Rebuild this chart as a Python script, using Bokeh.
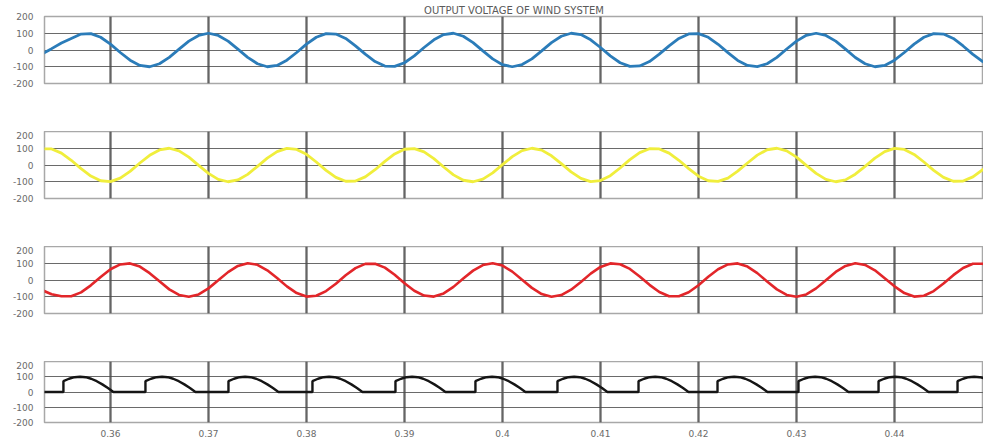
from bokeh.plotting import figure
from bokeh.layouts import column
from bokeh.models import Range1d, FixedTicker, Grid, Title
from bokeh.embed import file_html
from bokeh.resources import INLINE

title_text = "OUTPUT VOLTAGE OF WIND SYSTEM"

# sample times (ms) and the three phase voltages
t_ms = list(range(353, 451))
phase_blue = [
    -25, 8, 42, 69, 95, 98, 76, 35, -15, -61,
    -92, -100, -82, -44, 5, 53, 87, 100, 87, 53,
    5, -44, -82, -100, -92, -61, -15, 35, 76, 98,
    95, 69, 25, -25, -69, -96, -98, -76, -35, 15,
    61, 92, 100, 82, 44, -5, -53, -88, -100, -87,
    -53, -5, 44, 82, 100, 92, 61, 15, -35, -76,
    -98, -95, -69, -25, 25, 69, 96, 98, 76, 34,
    -16, -62, -92, -99, -82, -44, 6, 53, 88, 100,
    87, 53, 5, -45, -82, -100, -92, -61, -15, 35,
    76, 98, 95, 69, 24, -26, -69, -96,
]
phase_yellow = [
    97, 96, 71, 28, -22, -66, -94, -99, -78, -38,
    12, 58, 90, 100, 84, 47, -2, -50, -86, -100,
    -89, -56, -8, 41, 80, 99, 93, 64, 18, -32,
    -74, -97, -96, -71, -28, 22, 66, 94, 98, 78,
    38, -12, -59, -91, -100, -84, -47, 2, 50, 86,
    100, 89, 55, 8, -41, -80, -99, -93, -64, -18,
    32, 74, 97, 96, 71, 28, -22, -67, -94, -98,
    -78, -37, 12, 59, 91, 100, 84, 47, -2, -50,
    -86, -100, -89, -55, -8, 41, 80, 99, 93, 63,
    18, -32, -74, -97, -96, -71, -28, 22,
]
phase_red = [
    -60, -85, -97, -97, -74, -32, 18, 64, 93, 99,
    80, 41, -8, -56, -89, -100, -86, -50, -2, 47,
    84, 100, 91, 58, 12, -38, -78, -99, -94, -66,
    -22, 28, 71, 96, 97, 74, 31, -19, -64, -93,
    -99, -80, -41, 9, 56, 89, 100, 86, 50, 1,
    -47, -84, -100, -90, -58, -12, 38, 78, 99, 94,
    66, 21, -29, -72, -97, -97, -73, -31, 19, 64,
    93, 99, 80, 41, -9, -56, -89, -100, -86, -50,
    -1, 48, 84, 100, 90, 58, 11, -38, -78, -99,
    -94, -66, -21, 29, 72, 97, 97, 73,
]

# rectified output: pulse start times (ms) and one pulse's shape
pulse_start_ms = [355.20, 363.57, 372.04, 380.61, 389.08, 397.24,
                  405.61, 413.88, 421.94, 430.20, 438.37, 446.43]
pulse_offset_ms = [0.0, 0.0, 0.57, 1.13, 1.70, 2.27, 2.83, 3.40, 3.97, 4.54, 5.10]
pulse_value = [0, 71, 87, 97, 100, 97, 87, 71, 50, 26, 0]
rect_start_ms = 353.0

x_tick_values = [0.36, 0.37, 0.38, 0.39, 0.40, 0.41, 0.42, 0.43, 0.44]
x_tick_labels = ["0.36", "0.37", "0.38", "0.39", "0.4", "0.41", "0.42", "0.43", "0.44"]
y_tick_values = [-200, -100, 0, 100, 200]
y_tick_labels = ["-200", "-100", "0", "100", "200"]
y_grid_values = [-100, 0, 100]

t = [v / 1000.0 for v in t_ms]
rect_t = [rect_start_ms / 1000.0]
rect_v = [0]
for s in pulse_start_ms:
    for o, v in zip(pulse_offset_ms, pulse_value):
        rect_t.append((s + o) / 1000.0)
        rect_v.append(v)

series = [
    (t, phase_blue, "#2b7cb9", 2.8),
    (t, phase_yellow, "#f0ee3c", 2.8),
    (t, phase_red, "#e2262a", 2.6),
    (rect_t, rect_v, "#151515", 2.4),
]

FONT = "DejaVu Sans"
WIDTH = 983
FRAME_H = 67
GAP = 48
TOP = 16
AXIS_H = 11
x_range = Range1d(0.35327, 0.44908)
figs = []
for i, (xs, ys, col, lw) in enumerate(series):
    first = i == 0
    last = i == len(series) - 1
    b_top = TOP if first else 0
    b_bot = AXIS_H if last else GAP
    p = figure(x_range=x_range, y_range=Range1d(-200, 200),
               width=WIDTH, height=b_top + FRAME_H + b_bot,
               output_backend="svg", toolbar_location=None,
               x_axis_location="below" if last else None,
               min_border_left=44, min_border_right=0,
               min_border_top=b_top, min_border_bottom=b_bot)
    p.background_fill_color = "white"
    p.border_fill_color = "white"
    p.outline_line_color = "#a8a8a8"
    p.outline_line_width = 1.5
    p.xgrid.visible = False
    p.ygrid.visible = False
    p.add_layout(Grid(dimension=1, ticker=FixedTicker(ticks=y_grid_values),
                      grid_line_color="#6a6a6a", grid_line_width=1.1), "center")
    p.add_layout(Grid(dimension=0, ticker=FixedTicker(ticks=x_tick_values),
                      grid_line_color="#4a4a4a", grid_line_width=2.3,
                      grid_line_alpha=0.85), "center")

    ya = p.yaxis[0]
    ya.ticker = FixedTicker(ticks=y_tick_values)
    ya.major_label_overrides = dict(zip(y_tick_values, y_tick_labels))
    ya.axis_line_color = None
    ya.major_tick_line_color = None
    ya.minor_tick_line_color = None
    ya.major_label_text_font = FONT
    ya.major_label_text_font_size = "9px"
    ya.major_label_text_color = "#6a6a6a"
    ya.major_label_standoff = 5

    if last:
        xa = p.xaxis[0]
        xa.ticker = FixedTicker(ticks=x_tick_values)
        xa.major_label_overrides = dict(zip(x_tick_values, x_tick_labels))
        xa.axis_line_color = None
        xa.major_tick_line_color = None
        xa.minor_tick_line_color = None
        xa.major_label_text_font = FONT
        xa.major_label_text_font_size = "9px"
        xa.major_label_text_color = "#6a6a6a"
        xa.major_label_standoff = 1

    p.line(xs, ys, line_color=col, line_width=lw)

    if first:
        p.add_layout(Title(text=title_text, align="center", standoff=2,
                           text_font=FONT, text_font_size="10px",
                           text_font_style="normal", text_color="#5a5a5a"),
                     "above")
    figs.append(p)

layout = column(*figs, spacing=0)
open("out.html", "w").write(file_html(layout, INLINE))
